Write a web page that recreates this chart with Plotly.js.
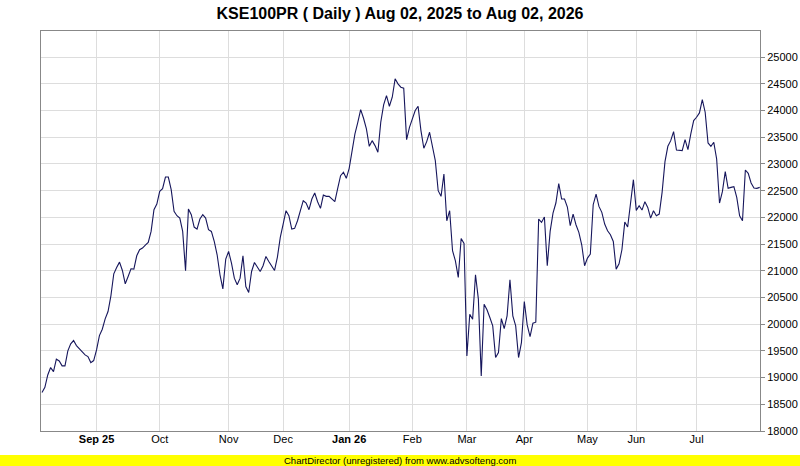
<!DOCTYPE html>
<html>
<head>
<meta charset="utf-8">
<script src="https://cdn.plot.ly/plotly-3.0.1.min.js"></script>
<style>html,body{margin:0;padding:0;background:#fff;}#chart{width:800px;height:466px;}</style>
</head>
<body>
<div id="chart"></div>
<script>
// Daily closing values, one per trading day
const closeValues = [
18719, 18819, 19050, 19188, 19112, 19344, 19312, 19219, 19219, 19500,
19631, 19694, 19600, 19537, 19487, 19425, 19394, 19281, 19319, 19519,
19787, 19906, 20100, 20237, 20531, 20944, 21062, 21162, 21006, 20756,
20894, 21037, 21031, 21281, 21394, 21425, 21481, 21531, 21737, 22144,
22250, 22487, 22537, 22756, 22756, 22519, 22112, 22031, 21987, 21737,
21000, 22156, 22050, 21819, 21781, 21969, 22050, 21987, 21769, 21737,
21550, 21300, 20925, 20662, 21219, 21362, 21144, 20862, 20737, 20862,
21281, 20706, 20594, 20987, 21156, 21062, 20987, 21094, 21269, 21175,
21094, 21006, 21256, 21625, 21875, 22125, 22031, 21781, 21794, 21937,
22125, 22312, 22269, 22144, 22344, 22456, 22294, 22169, 22419, 22394,
22394, 22344, 22294, 22544, 22781, 22844, 22731, 22919, 23250, 23562,
23781, 24019, 23856, 23656, 23331, 23437, 23344, 23219, 23781, 24106,
24281, 24081, 24250, 24594, 24500, 24437, 24419, 23456, 23687, 23844,
24000, 24081, 23625, 23294, 23419, 23594, 23294, 23062, 22500, 22394,
22812, 21937, 22125, 21375, 21187, 20875, 21606, 21512, 19406, 20187,
20094, 20925, 20469, 19031, 20375, 20269, 20125, 19969, 19375, 19469,
20106, 19919, 20156, 20831, 20156, 19969, 19375, 19656, 20425, 19987,
19769, 20019, 20037, 21969, 21906, 22006, 21094, 21737, 22081, 22269,
22631, 22344, 22344, 22194, 21844, 22062, 21862, 21719, 21487, 21094,
21237, 21312, 22237, 22437, 22206, 22094, 21875, 21750, 21675, 21550,
21031, 21131, 21394, 21912, 21819, 22319, 22706, 22131, 22219, 22137,
22294, 22187, 21987, 22125, 22031, 22062, 22469, 23044, 23331, 23437,
23606, 23262, 23250, 23250, 23456, 23269, 23562, 23812, 23875, 23956,
24206, 23969, 23394, 23331, 23406, 23094, 22269, 22481, 22856, 22544,
22562, 22575, 22375, 22031, 21937, 22887, 22825, 22644, 22550, 22544,
22562
];

// Month tick positions (trading-day index of first session of the month)
const monthTickIndex = [19, 41, 65, 84, 107, 129, 148, 168, 190, 207, 228];
const monthTickLabels = ['<b>Sep 25</b>', 'Oct', 'Nov', 'Dec', '<b>Jan 26</b>', 'Feb', 'Mar', 'Apr', 'May', 'Jun', 'Jul'];

const titleText = 'KSE100PR ( Daily ) Aug 02, 2025 to Aug 02, 2026';
const bannerText = 'ChartDirector (unregistered) from www.advsofteng.com';

const dayIndex = closeValues.map((_, i) => i);

const W = 800, H = 466;
const M = {l: 41, r: 40, t: 31, b: 35};
const plotW = W - M.l - M.r, plotH = H - M.t - M.b;
const px2paperX = x => (x - M.l) / plotW;
const py2paperY = y => (H - M.b - y) / plotH;

const sans = 'Liberation Sans, Arial, sans-serif';

const trace = {
  x: dayIndex,
  y: closeValues,
  type: 'scatter',
  mode: 'lines',
  line: {color: '#16165c', width: 1.1},
  hoverinfo: 'skip'
};

const layout = {
  width: W, height: H,
  margin: M,
  paper_bgcolor: '#ffffff',
  plot_bgcolor: '#ffffff',
  showlegend: false,
  title: {
    text: '<b>' + titleText + '</b>',
    font: {family: sans, size: 16, color: '#000000'},
    x: 0.5, xanchor: 'center', xref: 'container',
    y: 1 - 13 / H, yanchor: 'middle', yref: 'container'
  },
  xaxis: {
    range: [-0.35, 250.1],
    tickmode: 'array',
    tickvals: monthTickIndex,
    ticktext: monthTickLabels,
    ticks: '',
    ticklabelstandoff: -2,
    showgrid: true,
    gridcolor: '#dddddd',
    gridwidth: 1,
    showline: true,
    linecolor: '#888888',
    linewidth: 1,
    mirror: true,
    zeroline: false,
    tickfont: {family: sans, size: 11, color: '#000000'},
    fixedrange: true
  },
  yaxis: {
    side: 'right',
    range: [18000, 25490],
    tick0: 18000,
    dtick: 500,
    ticks: 'outside',
    ticklen: 4,
    tickcolor: '#888888',
    showgrid: true,
    gridcolor: '#dddddd',
    gridwidth: 1,
    showline: true,
    linecolor: '#888888',
    linewidth: 1,
    mirror: true,
    zeroline: false,
    tickformat: 'd',
    tickfont: {family: sans, size: 11, color: '#000000'},
    fixedrange: true
  },
  shapes: [{
    type: 'rect', xref: 'paper', yref: 'paper',
    x0: px2paperX(0), x1: px2paperX(W),
    y0: py2paperY(H), y1: py2paperY(455),
    fillcolor: '#ffff00', line: {width: 0}, layer: 'below'
  }],
  annotations: [{
    text: bannerText,
    xref: 'paper', yref: 'paper',
    x: px2paperX(400), y: py2paperY(460.5),
    xanchor: 'center', yanchor: 'middle',
    showarrow: false,
    font: {family: sans, size: 9.5, color: '#000000'}
  }]
};

Plotly.newPlot('chart', [trace], layout, {displayModeBar: false, staticPlot: true});
</script>
</body>
</html>
